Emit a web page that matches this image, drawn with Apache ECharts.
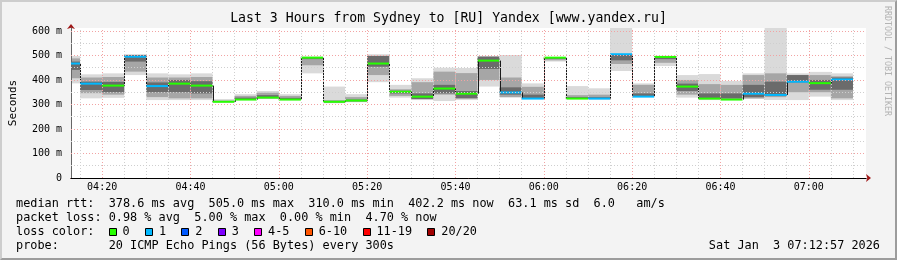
<!DOCTYPE html>
<html><head><meta charset="utf-8">
<script src="https://cdn.jsdelivr.net/npm/echarts@6/dist/echarts.min.js"></script>
<style>
html,body{margin:0;padding:0;background:#f3f3f3;}
#wrap{position:relative;width:897px;height:260px;overflow:hidden;}
#chart{position:absolute;left:0;top:0;width:897px;height:260px;}
#frame{position:absolute;left:0;top:0;width:897px;height:260px;box-sizing:border-box;border-top:2px solid #cdcdcd;border-left:2px solid #cdcdcd;border-right:2px solid #9c9c9c;border-bottom:2px solid #9c9c9c;pointer-events:none;}
</style></head>
<body><div id="wrap"><div id="chart"></div><div id="frame"></div></div>
<script>
// ---- data ----
const segEnd = ['04:15','04:20','04:25','04:30','04:35','04:40','04:45','04:50','04:55','05:00','05:05','05:10',
  '05:15','05:20','05:25','05:30','05:35','05:40','05:45','05:50','05:55','06:00','06:05','06:10',
  '06:15','06:20','06:25','06:30','06:35','06:40','06:45','06:50','06:55','07:00','07:05','07:10'];
const median = [467,385,377,495,375,385,377,311,320,328,320,491,311,316,467,352,332,365,344,479,349,324,491,324,324,505,332,494,373,324,320,344,339,393,387,402];
const lost   = [1,1,0,1,1,0,0,0,0,0,0,0,0,0,0,0,0,0,0,0,1,1,0,0,1,1,1,0,0,0,0,1,1,1,0,1];
const outerLo = [386,325,327,420,318,318,318,309,318,322,318,427,305,309,391,328,318,314,318,373,328,322,475,322,322,437,332,457,328,318,322,322,318,318,332,318];
const outerHi = [498,423,427,505,427,423,427,322,342,355,342,495,373,342,505,380,407,450,449,498,502,386,491,375,366,620,386,498,420,424,396,427,620,427,433,427];
const midLo   = [407,346,340,434,330,325,325,309,320,325,318,460,308,312,420,335,322,340,325,400,330,324,480,324,322,465,333,470,340,322,324,325,330,350,350,325];
const midHi   = [488,410,412,495,410,410,412,316,335,348,335,494,318,330,498,362,391,434,428,495,410,372,491,338,340,502,380,496,400,383,380,420,427,420,420,415];
const coreLo  = [441,359,350,475,350,350,345,310,320,326,319,485,309,313,454,345,322,345,325,445,340,324,486,324,322,480,333,485,355,322,324,330,335,390,360,360];
const coreHi  = [475,393,392,502,390,400,395,313,328,338,327,493,313,320,498,356,345,380,355,495,370,340,491,330,330,502,345,495,385,345,345,380,393,420,400,410];
const xLabels = ['04:20','04:40','05:00','05:20','05:40','06:00','06:20','06:40','07:00'];
const yTicks = [0,100,200,300,400,500,600];
const timeStart = '04:12:57', timeEnd = '07:12:57';
const lossColors = ['#26ff00','#00b8ff','#0059ff','#7e00ff','#ff00ff','#ff5500','#ff0000','#a00000'];
const lossLabels = ['0','1','2','3','4-5','6-10','11-19','20/20'];
const titleText = 'Last 3 Hours from Sydney to [RU] Yandex [www.yandex.ru]';
const legendLines = [
  'median rtt:  378.6 ms avg  505.0 ms max  310.0 ms min  402.2 ms now  63.1 ms sd  6.0   am/s',
  'packet loss: 0.98 % avg  5.00 % max  0.00 % min  4.70 % now',
  'loss color:',
  'probe:       20 ICMP Echo Pings (56 Bytes) every 300s'
];
const dateText = 'Sat Jan  3 07:12:57 2026';

// ---- helpers ----
function toMin(s){ const p = s.split(':').map(Number); return p[0]*60 + p[1] + (p[2]||0)/60; }
function fmt(v){ const h = Math.floor(v/60), m = Math.round(v - h*60); return String(h).padStart(2,'0')+':'+String(m).padStart(2,'0'); }
function lossIdx(n){ if(n<=0) return 0; if(n===1) return 1; if(n===2) return 2; if(n===3) return 3; if(n<=5) return 4; if(n<=10) return 5; if(n<=19) return 6; return 7; }
const xMin = toMin(timeStart), xMax = toMin(timeEnd);
const STEP = 5;

const smokeData = segEnd.map((t,i)=>[toMin(t), outerLo[i], outerHi[i], midLo[i], midHi[i], coreLo[i], coreHi[i]]);
const medData = segEnd.map((t,i)=>[toMin(t), median[i], i>0?median[i-1]:NaN, lost[i]]);

function clipR(r, cs){
  return echarts.graphic.clipRectByRect(r, {x:cs.x, y:cs.y, width:cs.width, height:cs.height});
}
function renderSmoke(params, api){
  const t1 = api.value(0), t0 = t1 - STEP;
  const bands = [[1,2,'#dadada'],[3,4,'#a6a6a6'],[5,6,'#6b6b6b']];
  const children = [];
  for (const b of bands){
    const p0 = api.coord([t0, api.value(b[1])]);
    const p1 = api.coord([t1, api.value(b[0])]);
    const sh = clipR({x:p0[0], y:p0[1], width:p1[0]-p0[0], height:p1[1]-p0[1]}, params.coordSys);
    if (sh) children.push({type:'rect', shape:sh, style:{fill:b[2]}});
  }
  return {type:'group', children};
}
function renderMedian(params, api){
  const t1 = api.value(0), t0 = t1 - STEP;
  const m = api.value(1), pm = api.value(2), l = api.value(3);
  const a = api.coord([t0, m]), b = api.coord([t1, m]);
  const children = [];
  if (!isNaN(pm)) {
    const c = api.coord([t0, pm]);
    children.push({type:'line', shape:{x1:Math.round(a[0])+0.5, y1:c[1], x2:Math.round(a[0])+0.5, y2:a[1]}, style:{stroke:'#1a1a1a', lineWidth:1}});
  }
  const sh = clipR({x:a[0], y:a[1]-1, width:b[0]-a[0], height:2}, params.coordSys);
  if (sh) children.push({type:'rect', shape:sh, style:{fill:lossColors[lossIdx(l)]}});
  return {type:'group', children};
}

// grid lines
const gridLines = [];
for (let v=50; v<600; v+=100) gridLines.push({yAxis:v, lineStyle:{color:'#cfcfcf', type:[1,2], width:1}});
for (let v=100; v<=600; v+=100) gridLines.push({yAxis:v, lineStyle:{color:'#f2a3a3', type:[1,2], width:1}});
const majorX = xLabels.map(toMin);
for (const t of segEnd){ const v = toMin(t); if (majorX.indexOf(v) < 0) gridLines.push({xAxis:v, lineStyle:{color:'#cfcfcf', type:[1,2], width:1}}); }
for (const v of majorX) gridLines.push({xAxis:v, lineStyle:{color:'#f2a3a3', type:[1,2], width:1}});

const MONO = '"DejaVu Sans Mono", monospace';
const cw = 7.13, lx = 16, FS = 11.85;
const graphics = [
  {type:'text', left:'center', top:12, style:{text:titleText, font:'13.2px '+MONO, fill:'#000'}},
  {type:'text', x:891, y:6, rotation:-Math.PI/2, style:{text:'RRDTOOL / TOBI OETIKER', font:'8.3px '+MONO, fill:'#b3b3b3'}}
];
const lineY = [204, 218.3, 232.3, 246.3];
legendLines.forEach((s,i)=>graphics.push({type:'text', x:lx, y:lineY[i], style:{text:s, font:FS+'px '+MONO, fill:'#000', verticalAlign:'middle'}}));
let bx = lx + 13*cw;
lossLabels.forEach((lab,i)=>{
  graphics.push({type:'rect', shape:{x:Math.round(bx)+0.5, y:228.5, width:7, height:7}, style:{fill:lossColors[i], stroke:'#000', lineWidth:1}});
  const tx = bx + 1.95*cw;
  graphics.push({type:'text', x:tx, y:lineY[2], style:{text:lab, font:FS+'px '+MONO, fill:'#000', verticalAlign:'middle'}});
  bx = tx + lab.length*cw + 2.15*cw;
});
graphics.push({type:'text', right:17, y:lineY[3], style:{text:dateText, font:FS+'px '+MONO, fill:'#000', verticalAlign:'middle'}});

const chart = echarts.init(document.getElementById('chart'), null, {renderer:'canvas'});
chart.setOption({
  animation:false,
  backgroundColor:'transparent',
  grid:{left:66, right:31, top:28, bottom:82, backgroundColor:'#ffffff', show:true, borderWidth:0},
  xAxis:[
    {type:'value', min:xMin, max:xMax, z:3,
     axisLine:{show:true, onZero:false, lineStyle:{color:'#000', width:1}},
     axisTick:{show:false},
     splitLine:{show:false},
     axisLabel:{customValues:majorX, formatter:fmt, fontFamily:MONO, fontSize:10, color:'#000', margin:4}},
    {type:'value', min:xMin, max:xMax, position:'bottom', z:1,
     axisLine:{show:true, onZero:false, symbol:['none','arrow'], symbolSize:[6,5], symbolOffset:[0,5], lineStyle:{color:'#a01818', width:1}},
     axisTick:{show:false}, axisLabel:{show:false}, splitLine:{show:false}}
  ],
  yAxis:[
    {type:'value', min:0, max:612, z:3, name:'Seconds', nameLocation:'middle', nameGap:52,
     nameTextStyle:{fontFamily:MONO, fontSize:11, color:'#000'},
     axisLine:{show:true, onZero:false, lineStyle:{color:'#666', width:1}},
     axisTick:{show:false}, splitLine:{show:false},
     axisLabel:{customValues:yTicks, formatter:v=>v===0?'0':v+' m', fontFamily:MONO, fontSize:10, color:'#000', margin:9}},
    {type:'value', min:0, max:612, position:'left', z:1,
     axisLine:{show:true, onZero:false, symbol:['none','arrow'], symbolSize:[6,5], symbolOffset:[0,4], lineStyle:{color:'#a01818', width:1}},
     axisTick:{show:false}, axisLabel:{show:false}, splitLine:{show:false}}
  ],
  series:[
    {type:'custom', name:'smoke', xAxisIndex:0, yAxisIndex:0, z:2, renderItem:renderSmoke, data:smokeData, silent:true},
    {type:'line', name:'grid', xAxisIndex:0, yAxisIndex:0, z:3, data:[], silent:true,
     markLine:{silent:true, symbol:'none', label:{show:false}, animation:false, data:gridLines}},
    {type:'custom', name:'median', xAxisIndex:0, yAxisIndex:0, z:4, renderItem:renderMedian, data:medData, silent:true}
  ],
  graphic:graphics
});
</script>
</body></html>
